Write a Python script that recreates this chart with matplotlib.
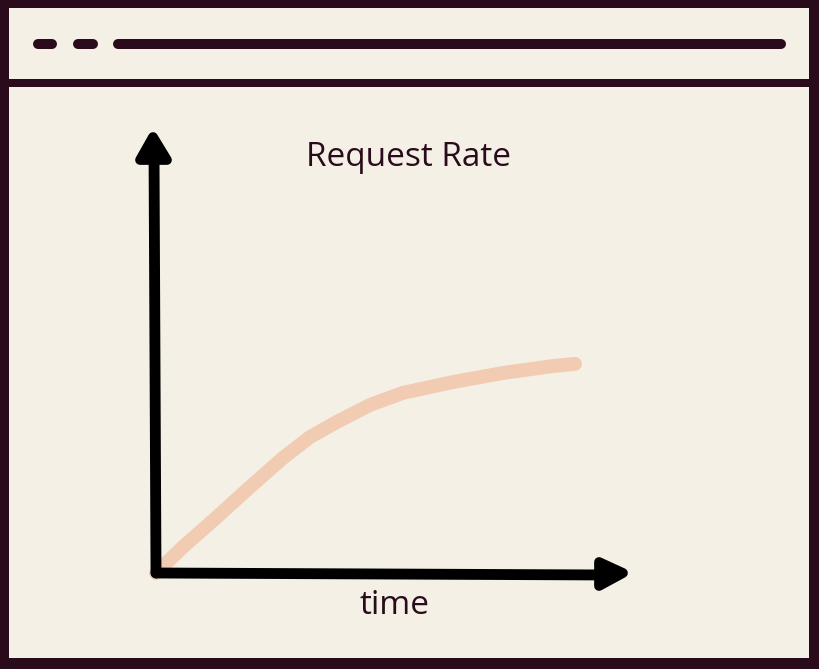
import matplotlib
matplotlib.use("Agg")
import matplotlib.pyplot as plt
from matplotlib.patches import Rectangle, Polygon

# ---- data ----
title_text = "Request Rate"
x_label = "time"
time_vals = [0.0, 0.58, 1.31, 2.03, 2.74, 3.32, 3.90, 4.61, 5.32, 6.40, 7.48, 8.56, 9.03]
rate_vals = [0.0, 0.60, 1.29, 1.99, 2.66, 3.14, 3.49, 3.88, 4.16, 4.41, 4.62, 4.78, 4.83]

# ---- colors ----
DARK = "#2a0b1b"
CREAM = "#f4f0e6"
PEACH = "#f1cbb2"
BLACK = "#000000"

W, H = 819, 669
fig = plt.figure(figsize=(W / 100, H / 100), dpi=100, facecolor=DARK)

# background / frame axes in pixel coordinates
bg = fig.add_axes([0, 0, 1, 1])
bg.set_xlim(0, W)
bg.set_ylim(H, 0)
bg.axis("off")
bg.add_patch(Rectangle((0, 0), W, H, facecolor=DARK, edgecolor="none"))
bg.add_patch(Rectangle((9, 8), 800, 71, facecolor=CREAM, edgecolor="none"))
bg.add_patch(Rectangle((9, 87), 800, 571, facecolor=CREAM, edgecolor="none"))

# header decorations
for (x0, x1) in [(38, 52), (78, 93), (118, 781)]:
    bg.plot([x0, x1], [44, 44], color=DARK, lw=7.2, solid_capstyle="round")

# data axes: origin at pixel (156, 573), (10, 10) at pixel (620, 140)
ox, oy = 156, 573
px_w, px_h = 464, 433
ax = fig.add_axes([ox / W, (H - oy) / H, px_w / W, px_h / H])
ax.set_xlim(0, 10)
ax.set_ylim(0, 10)
ax.axis("off")
ax.patch.set_alpha(0)

ax.plot(time_vals, rate_vals, color=PEACH, lw=10, solid_capstyle="round",
        solid_joinstyle="round", clip_on=False, zorder=2)

# axis arrows (pixel coords, drawn above the curve)
top = fig.add_axes([0, 0, 1, 1])
top.set_xlim(0, W)
top.set_ylim(H, 0)
top.axis("off")
top.patch.set_alpha(0)

top.plot([156, 154], [573, 150], color=BLACK, lw=7.8, solid_capstyle="round", zorder=3)
top.plot([156, 610], [573, 575], color=BLACK, lw=7.8, solid_capstyle="round", zorder=3)
top.add_patch(Polygon([(153, 137), (140, 160), (167, 160)], closed=True,
                      facecolor=BLACK, edgecolor=BLACK, lw=7, joinstyle="round", zorder=4))
top.add_patch(Polygon([(623, 573), (599, 562), (599, 586)], closed=True,
                      facecolor=BLACK, edgecolor=BLACK, lw=7, joinstyle="round", zorder=4))

fam = ["Open Sans", "DejaVu Sans"]
top.text(409, 157, title_text, ha="center", va="center", fontsize=24,
         color=DARK, family=fam, fontweight="medium")
top.text(394, 606, x_label, ha="center", va="center", fontsize=24,
         color=DARK, family=fam, fontweight="medium")

fig.savefig("out.png", dpi=100, facecolor=DARK)
